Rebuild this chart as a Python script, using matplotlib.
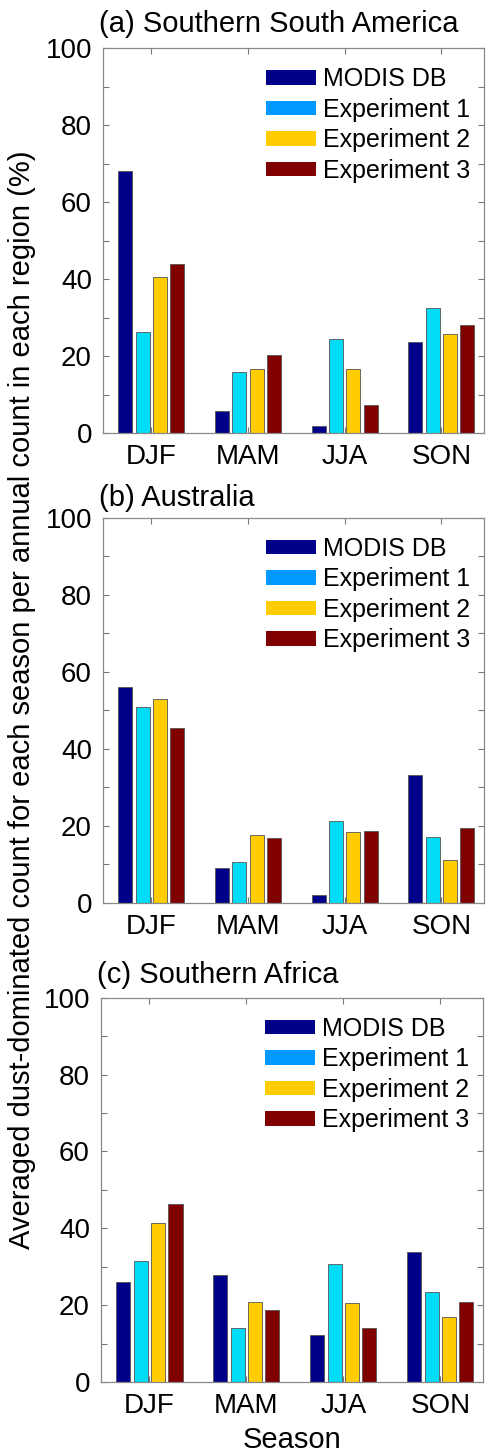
import matplotlib
matplotlib.use("Agg")
import matplotlib.pyplot as plt
from matplotlib.patches import Patch
import numpy as np

plt.rcParams['font.family'] = ['Liberation Sans', 'DejaVu Sans']

seasons = ["DJF", "MAM", "JJA", "SON"]
series_names = ["MODIS DB", "Experiment 1", "Experiment 2", "Experiment 3"]
titles = ["(a) Southern South America", "(b) Australia", "(c) Southern Africa"]

# percent of annual count, one list per series (DJF, MAM, JJA, SON)
ssa_modis = [68.2, 5.8, 1.9, 23.7]
ssa_exp1 = [26.4, 16.0, 24.6, 32.5]
ssa_exp2 = [40.5, 16.8, 16.6, 25.8]
ssa_exp3 = [43.9, 20.2, 7.4, 28.0]

aus_modis = [55.9, 8.9, 1.9, 33.2]
aus_exp1 = [50.8, 10.6, 21.3, 17.1]
aus_exp2 = [53.0, 17.6, 18.4, 11.2]
aus_exp3 = [45.5, 16.8, 18.5, 19.3]

saf_modis = [26.0, 27.8, 12.3, 33.7]
saf_exp1 = [31.6, 14.1, 30.8, 23.3]
saf_exp2 = [41.5, 20.8, 20.6, 17.0]
saf_exp3 = [46.3, 18.8, 14.0, 20.7]

panels = [
    [ssa_modis, ssa_exp1, ssa_exp2, ssa_exp3],
    [aus_modis, aus_exp1, aus_exp2, aus_exp3],
    [saf_modis, saf_exp1, saf_exp2, saf_exp3],
]

bar_colors = ["#000088", "#00DCF5", "#FFCC00", "#800000"]
legend_colors = ["#000088", "#0099FF", "#FFCC00", "#800000"]

fig = plt.figure(figsize=(4.87, 14.52), dpi=100)

# axes boxes in figure fractions (left, bottom, width, height)
boxes = [
    [0.2115, 0.7016, 0.7823, 0.2652],
    [0.2115, 0.3783, 0.7823, 0.2652],
    [0.2074, 0.0482, 0.7844, 0.2647],
]
title_y = [1.042, 1.031, 1.038]

x = np.arange(1, len(seasons) + 1)
step = 0.179
width = 0.145

for i, (box, data, title) in enumerate(zip(boxes, panels, titles)):
    ax = fig.add_axes(box)
    for j, vals in enumerate(data):
        ax.bar(x + (j - 1.5) * step, vals, width, color=bar_colors[j],
               edgecolor="#555555", linewidth=0.6, zorder=2)
    ax.set_xlim(0.5, 4.44)
    ax.set_ylim(0, 100)
    ax.set_xticks(x)
    ax.set_xticklabels(seasons)
    ax.set_yticks(np.arange(0, 101, 20))
    ax.set_yticks(np.arange(0, 101, 10), minor=True)
    ax.tick_params(axis="both", which="both", direction="in", top=True,
                   right=True, color="#777777", labelsize=20)
    ax.tick_params(axis="both", which="major", length=4, width=0.8, pad=8)
    ax.tick_params(axis="y", which="minor", length=4, width=0.8)
    for sp in ax.spines.values():
        sp.set_color("#888888")
        sp.set_linewidth(0.9)
    ax.text(-0.01, title_y[i], title, transform=ax.transAxes, fontsize=21,
            ha="left", va="baseline")
    handles = [Patch(facecolor=c, edgecolor="none") for c in legend_colors]
    ax.legend(handles, series_names, loc="upper left",
              bbox_to_anchor=(0.428, 0.950), frameon=False, fontsize=18,
              handlelength=2.0, handleheight=0.52, handletextpad=0.28,
              labelspacing=0.26, borderpad=0, borderaxespad=0)
    if i == 2:
        ax.set_xlabel("Season", fontsize=21, labelpad=5)

fig.text(0.045, 0.518,
         "Averaged dust-dominated count for each season per annual count in each region (%)",
         rotation=90, ha="center", va="center", fontsize=21)

fig.savefig("out.png", dpi=100)
